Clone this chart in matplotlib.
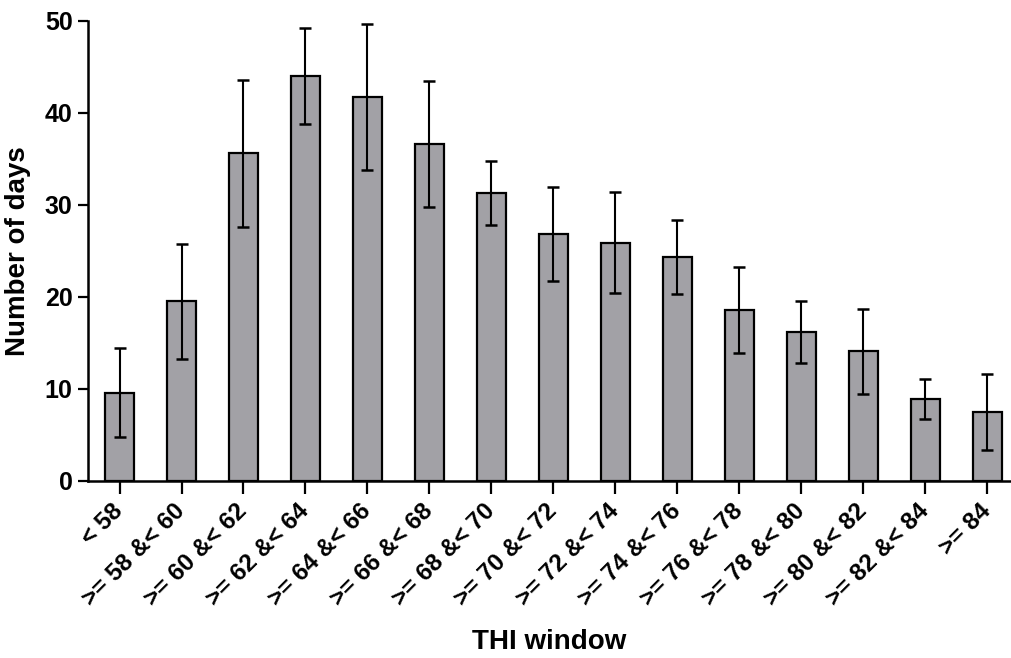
import matplotlib

matplotlib.use("Agg")

import numpy as np
import matplotlib.pyplot as plt

plt.rcParams["font.family"] = ["Liberation Sans", "DejaVu Sans"]
plt.rcParams["font.weight"] = "bold"

# THI windows, mean number of days and SD
windows = ["< 58", ">= 58 &< 60", ">= 60 &< 62", ">= 62 &< 64", ">= 64 &< 66",
           ">= 66 &< 68", ">= 68 &< 70", ">= 70 &< 72", ">= 72 &< 74",
           ">= 74 &< 76", ">= 76 &< 78", ">= 78 &< 80", ">= 80 &< 82",
           ">= 82 &< 84", ">= 84"]
days = [9.6, 19.5, 35.6, 44.0, 41.7, 36.6, 31.3, 26.8, 25.9, 24.3, 18.6, 16.2, 14.1, 8.9, 7.5]
sd = [4.8, 6.2, 8.0, 5.2, 7.9, 6.8, 3.5, 5.1, 5.5, 4.0, 4.7, 3.4, 4.6, 2.2, 4.1]

fig = plt.figure(figsize=(10.11, 6.58), dpi=100)
ax = fig.add_axes([0.087, 0.269, 0.912, 0.6995])

x = np.arange(len(windows))
ax.bar(x, days, width=0.47, color="#a2a1a6", edgecolor="black", linewidth=1.6, zorder=2)
ax.errorbar(x, days, yerr=sd, fmt="none", ecolor="black", elinewidth=1.5,
            capsize=4, capthick=1.8, zorder=3)

ax.set_xlim(-0.51, 14.37)
ax.set_ylim(0, 50)
ax.set_yticks([0, 10, 20, 30, 40, 50])
ax.set_xticks(x)
ax.set_xticklabels(windows, rotation=45, ha="right", va="center",
                   rotation_mode="anchor", fontsize=17.5, fontweight="bold")
ax.tick_params(axis="y", labelsize=18, width=1.6, length=7, pad=4)
ax.tick_params(axis="x", width=1.6, length=9, pad=10)
for lab in ax.get_yticklabels():
    lab.set_fontweight("bold")

for side in ("top", "right"):
    ax.spines[side].set_visible(False)
for side in ("left", "bottom"):
    ax.spines[side].set_linewidth(1.8)

ax.set_ylabel("Number of days", fontsize=20, fontweight="bold", labelpad=10)
ax.set_xlabel("THI window", fontsize=20, fontweight="bold", labelpad=13)

fig.savefig("out.png", dpi=100)
plt.close()
